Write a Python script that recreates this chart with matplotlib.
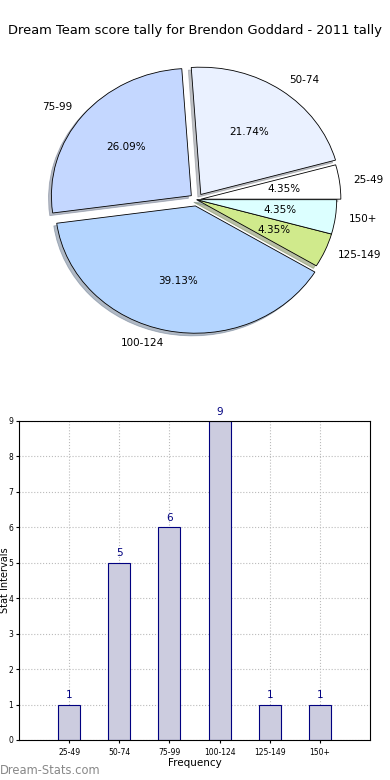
import matplotlib
matplotlib.use("Agg")
import matplotlib.pyplot as plt

# Datos
rangos = ["25-49", "50-74", "75-99", "100-124", "125-149", "150+"]
cuentas = [1, 5, 6, 9, 1, 1]
colores_pie = ["#ffffff", "#eaf1ff", "#c4d7ff", "#b4d5ff", "#d0ea8c", "#dcffff"]
separacion = [0.03, 0.05, 0.05, 0.05, 0, 0]
y_ticks = [0, 1, 2, 3, 4, 5, 6, 7, 8, 9]

fig = plt.figure(figsize=(3.9, 7.8), dpi=100)
fig.text(0.5, 0.961, "Dream Team score tally for Brendon Goddard - 2011 tally",
         ha="center", va="center", fontsize=9.4)

# Pie
ax1 = fig.add_axes([0.056, 0.540, 0.897, 0.408])
wedges, texts, autotexts = ax1.pie(cuentas, labels=rangos, colors=colores_pie,
                                   explode=separacion, autopct="%.2f%%",
                                   shadow={"ox": -0.015, "oy": -0.015, "shade": 0.45},
                                   startangle=0,
                                   wedgeprops={"edgecolor": "black", "linewidth": 0.6},
                                   textprops={"fontsize": 7.5})
ax1.set_aspect("auto")
ax1.set_xlim(-1.25, 1.25)
ax1.set_ylim(-1.25, 1.25)

# Barras
ax2 = fig.add_axes([0.0487, 0.0513, 0.9, 0.409])
pos = list(range(1, len(rangos) + 1))
barras = ax2.bar(pos, cuentas, width=0.44, color="#ccccdf", edgecolor="#000080", linewidth=0.8, zorder=2)
for p, c in zip(pos, cuentas):
    ax2.text(p, c + 0.12, str(c), ha="center", va="bottom", color="#000080", fontsize=7.5)
ax2.set_xlim(0, 7)
ax2.set_ylim(0, 9)
ax2.set_xticks(pos)
ax2.set_xticklabels(rangos, fontsize=5.5)
ax2.set_yticks(y_ticks)
ax2.tick_params(axis="y", labelsize=5.5, pad=2)
ax2.tick_params(length=2)
ax2.grid(True, linestyle=":", color="#bbbbbb", linewidth=0.8, zorder=0)
ax2.set_xlabel("Frequency", fontsize=7.5, labelpad=1)
ax2.set_ylabel("Stat Intervals", fontsize=7, va="center")
ax2.yaxis.set_label_coords(-0.041, 0.5)

fig.text(0.0, 0.012, "Dream-Stats.com", color="#888888", fontsize=8.3, ha="left", va="center")

plt.savefig("out.png", dpi=100)
